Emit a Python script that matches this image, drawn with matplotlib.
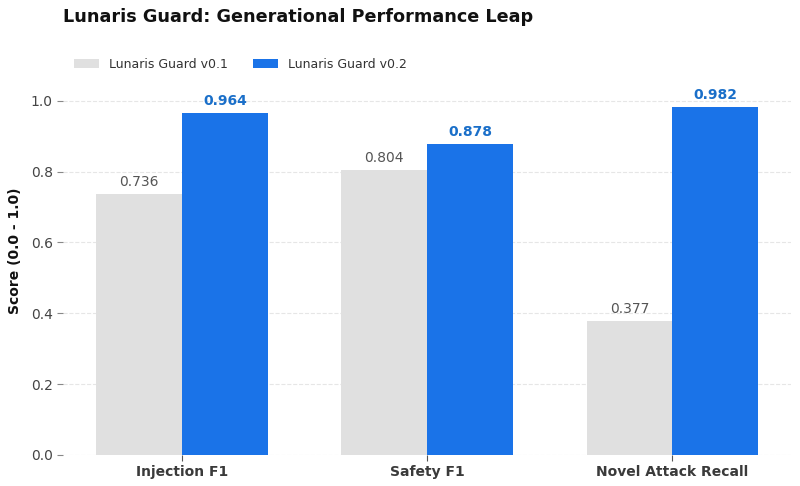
import matplotlib
matplotlib.use("Agg")
import matplotlib.pyplot as plt
import numpy as np

categories = ["Injection F1", "Safety F1", "Novel Attack Recall"]
v01 = [0.736, 0.804, 0.377]
v02 = [0.964, 0.878, 0.982]
series_names = ["Lunaris Guard v0.1", "Lunaris Guard v0.2"]

fig = plt.figure(figsize=(8, 4.86), dpi=100)
ax = fig.add_axes([0.079, 0.064, 0.91, 0.8395])

x = np.arange(len(categories))
w = 0.35
b1 = ax.bar(x - w/2, v01, w, color="#e0e0e0", label=series_names[0], zorder=2)
b2 = ax.bar(x + w/2, v02, w, color="#1a73e8", label=series_names[1], zorder=2)

for r, v in zip(b1, v01):
    ax.text(r.get_x() + r.get_width()/2, v + 0.015, f"{v:.3f}", ha="center", va="bottom",
            fontsize=10, color="#555555")
for r, v in zip(b2, v02):
    ax.text(r.get_x() + r.get_width()/2, v + 0.015, f"{v:.3f}", ha="center", va="bottom",
            fontsize=10, color="#1a6fc9", fontweight="bold")

ax.set_ylim(0, 1.152)
ax.set_yticks([0.0, 0.2, 0.4, 0.6, 0.8, 1.0])
ax.set_xticks(x)
ax.set_xticklabels(categories, fontsize=10, fontweight="bold", color="#3a3a3a")
ax.tick_params(axis="y", labelsize=10, labelcolor="#444444", color="#888888", length=4)
ax.tick_params(axis="x", color="#555555", length=4)
for s in ax.spines.values():
    s.set_visible(False)
ax.yaxis.grid(True, linestyle="--", color="#e6e6e6", linewidth=0.8, zorder=0)
ax.set_axisbelow(True)
ax.set_ylabel("Score (0.0 - 1.0)", fontsize=10, fontweight="bold", color="#111111", labelpad=6)

fig.text(0.079, 0.965, "Lunaris Guard: Generational Performance Leap", fontsize=12.7,
         fontweight="bold", ha="left", va="center", color="#111111")
fig.legend(handles=[b1, b2], labels=series_names, loc="center left",
           bbox_to_anchor=(0.079, 0.868), bbox_transform=fig.transFigure, ncol=2,
           frameon=False, fontsize=9, handlelength=2.0, columnspacing=2.0,
           labelcolor="#333333")

fig.savefig("out.png", dpi=100)
